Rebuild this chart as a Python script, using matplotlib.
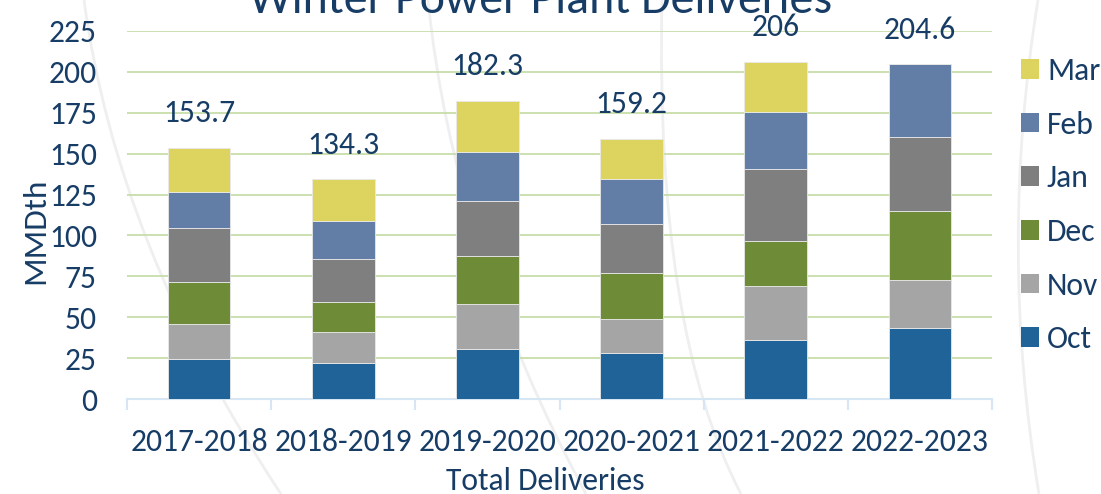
import matplotlib
matplotlib.use("Agg")
import matplotlib.pyplot as plt
from matplotlib.patches import Patch, PathPatch
from matplotlib.path import Path
from matplotlib import font_manager
import numpy as np

seasons = ["2017-2018", "2018-2019", "2019-2020", "2020-2021", "2021-2022", "2022-2023"]
months = ["Oct", "Nov", "Dec", "Jan", "Feb", "Mar"]
oct_v = [24.6, 22.2, 30.4, 28.3, 36.2, 43.6]
nov_v = [21.0, 18.5, 27.7, 20.4, 32.9, 29.1]
dec_v = [26.1, 18.8, 29.5, 28.5, 27.3, 42.0]
jan_v = [32.6, 25.9, 33.2, 29.6, 44.4, 45.4]
feb_v = [22.0, 23.4, 30.0, 27.9, 34.4, 44.5]
mar_v = [27.4, 25.5, 31.5, 24.5, 30.8, 0.0]
totals = ["153.7", "134.3", "182.3", "159.2", "206", "204.6"]

colors = ["#1f6398", "#a5a5a5", "#6e8b37", "#7f7f7f", "#627da6", "#ddd45f"]
txt = "#173d66"
installed = {f.name for f in font_manager.fontManager.ttflist}
chosen = next((f for f in ["Carlito", "Lato", "Roboto"] if f in installed), "DejaVu Sans")
plt.rcParams["font.family"] = [chosen, "DejaVu Sans"]
FS = 22.8
W, H = 1101, 494

fig = plt.figure(figsize=(W/100, H/100), dpi=100)

# faint decorative background arcs (pixel coords from top-left)
arcs = [((84, 0), (117, 247), (281, 494)),
        ((428, 0), (453, 247), (586, 494)),
        ((662, 0), (655, 330), (741, 494)),
        ((1038, 0), (998, 247), (1039, 494))]
for p0, c, p2 in arcs:
    verts = [(p[0]/W, 1-p[1]/H) for p in (p0, c, p2)]
    fig.add_artist(PathPatch(Path(verts, [Path.MOVETO, Path.CURVE3, Path.CURVE3]),
                             transform=fig.transFigure, facecolor="none",
                             edgecolor="#efefef", linewidth=2, zorder=-1))

ax = fig.add_axes([127/W, 1-399/H, (992-127)/W, (399-31)/H])
ax.patch.set_alpha(0)

series = [oct_v, nov_v, dec_v, jan_v, feb_v, mar_v]
x = np.arange(len(seasons))
bottom = np.zeros(len(seasons))
handles = []
for name, vals, c in zip(months, series, colors):
    v = np.array(vals)
    ax.bar(x, v, 0.435, bottom=bottom, color=c, edgecolor="#e8e8e8", linewidth=0.6, zorder=3)
    bottom += v
    handles.append(Patch(facecolor=c, edgecolor="none", label=name))

for xi, top, lab in zip(x, bottom, totals):
    ax.annotate(lab, (xi, top), xytext=(0, 18.5), textcoords="offset points",
                ha="center", va="baseline", fontsize=FS, color=txt)

ax.set_xlim(-0.5, 5.5)
ax.set_ylim(0, 225)
ax.set_yticks(np.arange(0, 226, 25))
ax.grid(axis="y", color="#c8dda9", linewidth=1.3, zorder=0)
ax.set_axisbelow(True)
for s in ["top", "right", "left"]:
    ax.spines[s].set_visible(False)
ax.spines["bottom"].set_color("#d6e6f4")
ax.spines["bottom"].set_linewidth(1.5)
ax.set_xticks(x)
ax.set_xticklabels(seasons)
ax.set_xticks(np.arange(-0.5, 5.6, 1), minor=True)
ax.tick_params(axis="x", which="major", length=0, pad=21, labelsize=FS, labelcolor=txt)
ax.tick_params(axis="x", which="minor", length=8, width=1.5, color="#d6e6f4")
ax.tick_params(axis="y", length=0, pad=21.6, labelsize=FS, labelcolor=txt)

fig.text(545/W, 1-490/H, "Total Deliveries", ha="center", va="baseline", fontsize=FS, color=txt)
fig.text(35/W, 1-231/H, "MMDth", ha="center", va="center", rotation=90, fontsize=24, color=txt)
fig.text(541/W, 1-13/H, "Winter Power Plant Deliveries", ha="center", va="baseline", fontsize=34.5, color=txt)

leg = fig.legend(handles=handles[::-1], loc="upper left", bbox_to_anchor=(1021/W, 1-57/H),
                 frameon=False, fontsize=FS, labelcolor=txt, handlelength=0.57, handleheight=0.57,
                 handletextpad=0.25, labelspacing=0.81, borderaxespad=0, borderpad=0)

fig.savefig("out.png", dpi=100)
